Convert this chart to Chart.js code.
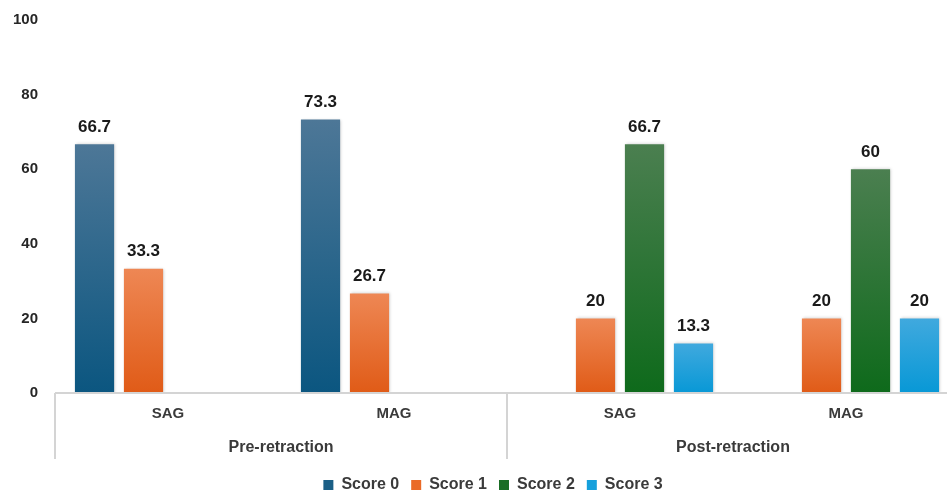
<!DOCTYPE html>
<html>
<head>
<meta charset="utf-8">
<script src="https://cdn.jsdelivr.net/npm/chart.js@4.4.1/dist/chart.umd.min.js"></script>
<style>
  html, body { margin: 0; padding: 0; background: #fff; overflow: hidden; }
  #wrap { width: 986px; height: 503px; }
</style>
</head>
<body>
<div id="wrap"><canvas id="grafico"></canvas></div>
<script>
const CATEGORIAS = ['SAG', 'MAG', 'SAG', 'MAG'];
const GRUPOS = ['Pre-retraction', 'Post-retraction'];
const SERIES = ['Score 0', 'Score 1', 'Score 2', 'Score 3'];
const SCORE_0 = [66.7, 73.3, null, null];
const SCORE_1 = [33.3, 26.7, 20, 20];
const SCORE_2 = [null, null, 66.7, 60];
const SCORE_3 = [null, null, 13.3, 20];
const Y_TICKS = [0, 20, 40, 60, 80, 100];

const COLORES_TOP = ['#4d7797', '#ee8754', '#4b7f50', '#40a9de'];
const COLORES_BASE = ['#0b5680', '#e05b17', '#0e6a1b', '#0898d6'];
const COLORES_LEYENDA = ['#1b5f86', '#ea6a27', '#1a6d25', '#16a0dc'];

const FONT = 'Liberation Sans, Arial, sans-serif';

function gradiente(i) {
  return (ctx) => {
    const chart = ctx.chart;
    const v = ctx.parsed ? ctx.parsed.y : ctx.raw;
    if (!chart.chartArea || !chart.scales.y || v == null || !isFinite(v)) return COLORES_BASE[i];
    const y = chart.scales.y;
    const top = y.getPixelForValue(v);
    const base = y.getPixelForValue(0);
    if (!isFinite(top) || !isFinite(base) || top === base) return COLORES_BASE[i];
    const g = chart.ctx.createLinearGradient(0, top, 0, base);
    g.addColorStop(0, COLORES_TOP[i]);
    g.addColorStop(1, COLORES_BASE[i]);
    return g;
  };
}

const sombra = {
  id: 'sombra',
  beforeDatasetsDraw(chart) {
    const c = chart.ctx;
    c.save();
    c.shadowColor = 'rgba(0,0,0,0.22)';
    c.shadowBlur = 3;
    c.shadowOffsetX = 1;
    c.shadowOffsetY = 0;
  },
  afterDatasetsDraw(chart) {
    chart.ctx.restore();
  }
};

const etiquetas = {
  id: 'etiquetas',
  afterDatasetsDraw(chart) {
    const c = chart.ctx;
    c.save();
    c.font = `bold 17px ${FONT}`;
    c.fillStyle = '#1a1a1a';
    c.textAlign = 'center';
    c.textBaseline = 'middle';
    chart.data.datasets.forEach((ds, i) => {
      const meta = chart.getDatasetMeta(i);
      meta.data.forEach((bar, j) => {
        const v = ds.data[j];
        if (v == null) return;
        c.fillText(String(v), bar.x, bar.y - 17);
      });
    });
    c.restore();
  }
};

const separadores = {
  id: 'separadores',
  afterDraw(chart) {
    const x = chart.scales.x;
    const x2 = chart.scales.x2;
    const c = chart.ctx;
    const mid = (x.getPixelForValue(1) + x.getPixelForValue(2)) / 2;
    const fin = x2.top + 32;
    c.save();
    c.strokeStyle = '#d4d4d4';
    c.lineWidth = 2;
    c.beginPath();
    c.moveTo(x.left, x.top);
    c.lineTo(x.right, x.top);
    [x.left, mid, x.right].forEach(px => {
      c.moveTo(px, x.top);
      c.lineTo(px, fin);
    });
    c.stroke();
    c.restore();
  }
};

// la leyenda de Excel queda centrada un poco a la derecha
const leyendaDesplazada = {
  id: 'leyendaDesplazada',
  afterLayout(chart) {
    if (chart.legend) chart.legend.left += 15;
  }
};

const datasets = [SCORE_0, SCORE_1, SCORE_2, SCORE_3].map((data, i) => ({
  label: SERIES[i],
  data,
  backgroundColor: gradiente(i),
  borderWidth: 0,
  categoryPercentage: 0.867,
  barPercentage: 0.8
}));

new Chart(document.getElementById('grafico').getContext('2d'), {
  type: 'bar',
  data: { labels: CATEGORIAS, datasets },
  plugins: [sombra, etiquetas, separadores, leyendaDesplazada],
  options: {
    responsive: true,
    maintainAspectRatio: false,
    animation: false,
    layout: { padding: { left: 12, right: 27, top: 20, bottom: 0 } },
    plugins: {
      tooltip: { enabled: false },
      legend: {
        position: 'bottom',
        labels: {
          boxWidth: 10,
          boxHeight: 10,
          padding: 12,
          color: '#3a3a3a',
          font: { family: FONT, size: 16, weight: 'bold' },
          generateLabels: (chart) => chart.data.datasets.map((ds, i) => ({
            text: ds.label,
            fillStyle: COLORES_LEYENDA[i],
            strokeStyle: COLORES_LEYENDA[i],
            lineWidth: 0,
            fontColor: '#3a3a3a',
            datasetIndex: i
          }))
        }
      }
    },
    scales: {
      x: {
        grid: { display: false, drawTicks: false },
        border: { display: false },
        afterFit: (axis) => { axis.height = 34; },
        ticks: {
          padding: 12,
          color: '#3a3a3a',
          font: { family: FONT, size: 15, weight: 'bold' }
        }
      },
      x2: {
        type: 'category',
        labels: GRUPOS,
        position: 'bottom',
        offset: true,
        grid: { display: false, drawTicks: false },
        border: { display: false },
        afterFit: (axis) => { axis.height = 38; },
        ticks: {
          padding: 11,
          color: '#3a3a3a',
          font: { family: FONT, size: 16, weight: 'bold' }
        }
      },
      y: {
        min: 0,
        max: 100,
        afterBuildTicks: (axis) => { axis.ticks = Y_TICKS.map(v => ({ value: v })); },
        afterFit: (axis) => { axis.width = 43; axis.paddingTop = 0; axis.paddingBottom = 0; },
        grid: { display: false, drawTicks: false },
        border: { display: false },
        ticks: {
          padding: 17,
          color: '#262626',
          font: { family: FONT, size: 15, weight: 'bold' }
        }
      }
    }
  }
});
</script>
</body>
</html>
